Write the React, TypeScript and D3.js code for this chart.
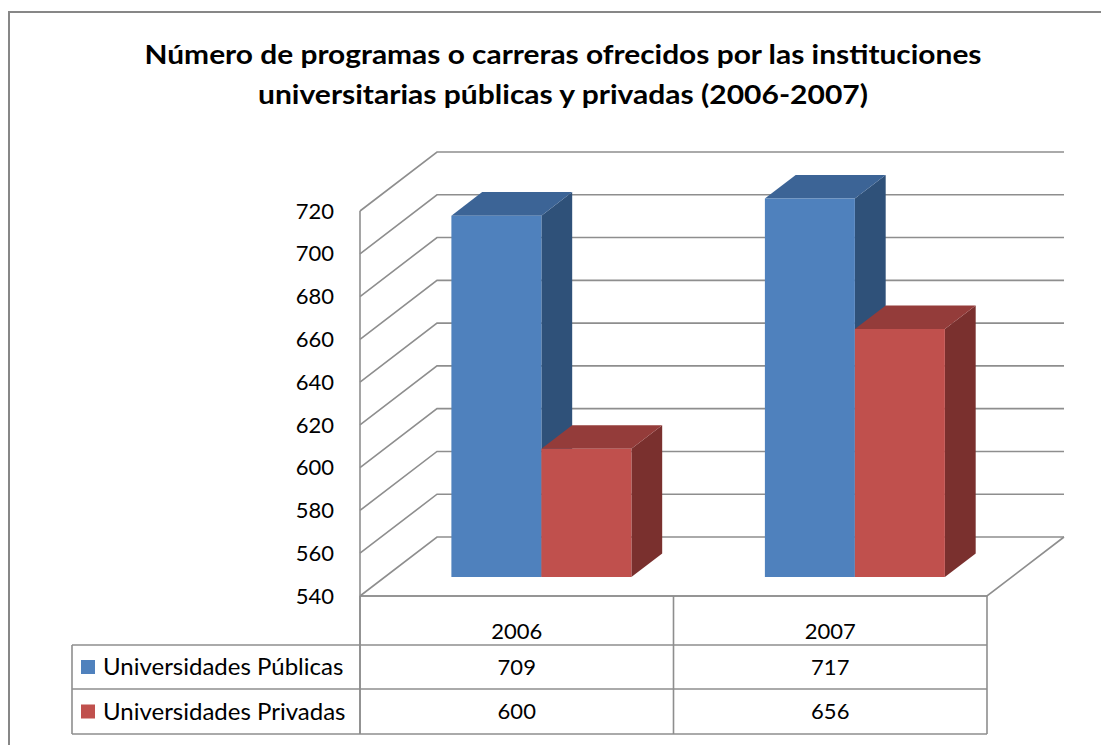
import React from "react";
import * as d3 from "d3";

const categories = ["2006", "2007"];
const seriesNames = ["Universidades Públicas", "Universidades Privadas"];
const publicas = [709, 717];
const privadas = [600, 656];
const yTicks = [540, 560, 580, 600, 620, 640, 660, 680, 700, 720];
const titleLines = [
  "Número de programas o carreras ofrecidos por las instituciones",
  "universitarias públicas y privadas (2006-2007)",
];
const titleWidths = [837, 610];

const colors = [
  { front: "#4F81BD", top: "#3C6496", side: "#2F5179" },
  { front: "#C0504D", top: "#943C3A", side: "#7A302E" },
];

const FONT = "Lato, 'Open Sans', sans-serif";

export default function App() {
  const W = 1101;
  const H = 745;
  const x0 = 360;
  const x1 = 987;
  const floorY = 596;
  const DX = 77;
  const DY = 59;
  const zFront = 0.32;
  const zBack = 0.72;

  const y = d3.scaleLinear().domain([540, 720]).range([0, 385]);
  const xb = d3.scaleBand().domain(categories).range([x0, x1]);
  const inner = d3.scaleBand().domain(seriesNames).range([-90, 90]);
  const series = [publicas, privadas];

  const P = (x: number, v: number, z: number): [number, number] => [
    x + z * DX,
    floorY - y(v) - z * DY,
  ];
  const pts = (arr: [number, number][]) => arr.map((p) => p.join(",")).join(" ");

  const grid = "#8E8E8E";

  const bars: JSX.Element[] = [];
  categories.forEach((c, ci) => {
    const cx = (xb(c) as number) + xb.bandwidth() / 2;
    seriesNames.forEach((s, si) => {
      const v = series[si][ci];
      const bx0 = cx + (inner(s) as number);
      const bx1 = bx0 + inner.bandwidth();
      const col = colors[si];
      const side = [P(bx1, 540, zFront), P(bx1, v, zFront), P(bx1, v, zBack), P(bx1, 540, zBack)];
      const top = [P(bx0, v, zFront), P(bx1, v, zFront), P(bx1, v, zBack), P(bx0, v, zBack)];
      const front = [P(bx0, 540, zFront), P(bx0, v, zFront), P(bx1, v, zFront), P(bx1, 540, zFront)];
      bars.push(
        <g key={c + s}>
          <polygon points={pts(side)} fill={col.side} />
          <polygon points={pts(top)} fill={col.top} />
          <polygon points={pts(front)} fill={col.front} />
        </g>
      );
    });
  });

  const rowTop = 596;
  const row1 = 645;
  const row2 = 689;
  const row3 = 734;
  const tableLeft = 72;
  const colX = [x0, xb("2007") as number, x1];

  return (
    <svg
      width={W}
      height={H}
      style={{ position: "absolute", left: 0, top: 0, background: "#fff" }}
      fontFamily={FONT}
    >
      <rect x={9} y={12} width={1110} height={760} fill="#fff" stroke="#878787" strokeWidth={2} />
      {titleLines.map((t, i) => (
        <text
          key={i}
          x={563}
          y={64 + i * 40}
          textAnchor="middle"
          fontWeight="bold"
          fontSize={27}
          textLength={titleWidths[i]}
          lengthAdjust="spacingAndGlyphs"
          fill="#000"
        >
          {t}
        </text>
      ))}

      {yTicks.map((t) => {
        const a = P(x0, t, 0);
        const b = P(x0, t, 1);
        const c = P(x1, t, 1);
        return (
          <polyline key={t} points={pts([a, b, c])} fill="none" stroke={grid} strokeWidth={1.6} />
        );
      })}
      <polyline
        points={pts([P(x0, 540, 0), P(x1, 540, 0), P(x1, 540, 1)])}
        fill="none"
        stroke={grid}
        strokeWidth={1.6}
      />
      <line x1={x0} x2={x0} y1={P(x0, 720, 0)[1]} y2={row3} stroke={grid} strokeWidth={1.6} />

      {yTicks.map((t) => (
        <text
          key={"l" + t}
          x={334}
          y={P(x0, t, 0)[1]}
          dy="0.35em"
          textAnchor="end"
          fontSize={22}
          fill="#000"
        >
          {t}
        </text>
      ))}

      {bars}

      <g stroke={grid} strokeWidth={1.6} fill="none">
        <line x1={x0} x2={x1} y1={rowTop} y2={rowTop} />
        <line x1={tableLeft} x2={x1} y1={row1} y2={row1} />
        <line x1={tableLeft} x2={x1} y1={row2} y2={row2} />
        <line x1={tableLeft} x2={x1} y1={row3} y2={row3} />
        <line x1={tableLeft} x2={tableLeft} y1={row1} y2={row3} />
        {colX.map((cx, i) => (
          <line key={i} x1={cx} x2={cx} y1={rowTop} y2={row3} />
        ))}
      </g>
      {categories.map((c) => (
        <text
          key={"c" + c}
          x={(xb(c) as number) + xb.bandwidth() / 2}
          y={631}
          dy="0.35em"
          textAnchor="middle"
          fontSize={22}
          fill="#000"
        >
          {c}
        </text>
      ))}
      {seriesNames.map((s, si) => {
        const ry = si === 0 ? (row1 + row2) / 2 : (row2 + row3) / 2;
        return (
          <g key={s}>
            <rect x={81} y={ry - 7} width={14} height={14} fill={colors[si].front} />
            <text x={103} y={ry} dy="0.35em" fontSize={24} fill="#000">
              {s}
            </text>
            {categories.map((c, ci) => (
              <text
                key={c}
                x={(xb(c) as number) + xb.bandwidth() / 2}
                y={ry}
                dy="0.35em"
                textAnchor="middle"
                fontSize={22}
                fill="#000"
              >
                {series[si][ci]}
              </text>
            ))}
          </g>
        );
      })}
    </svg>
  );
}
